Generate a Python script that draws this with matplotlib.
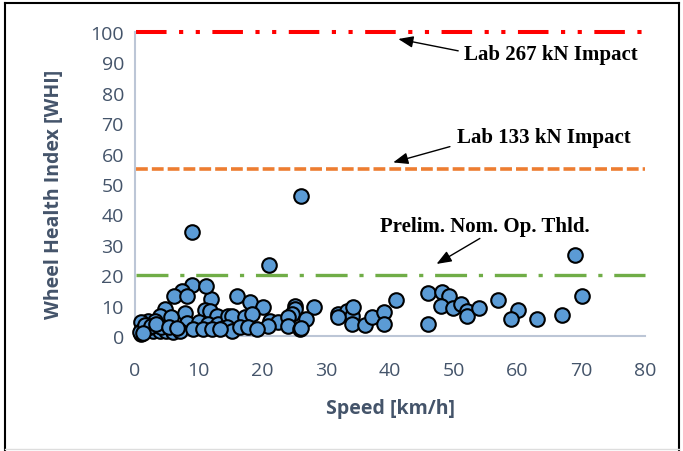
import matplotlib
matplotlib.use("Agg")
import matplotlib.pyplot as plt
from matplotlib.lines import Line2D

# speed [km/h] and wheel health index
SPEED = [
    9.0, 26.0, 21.0, 69.0, 70.1,
    8.9, 7.3, 6.1, 8.2, 11.9, 11.1, 4.7, 11.0, 7.8, 3.9, 5.7, 11.7, 12.8,
    2.0, 3.1, 1.0, 8.1, 10.1, 11.5, 13.0, 1.0, 1.8, 2.8, 3.9, 4.9, 6.0, 7.0,
    1.0, 2.3, 4.1, 9.1, 10.7, 12.0, 14.1, 14.6,
    16.0, 18.0, 20.0, 25.1, 25.1, 28.1, 15.2, 17.3, 18.3, 24.6, 26.9, 21.2,
    22.5, 24.0, 24.0, 20.9, 25.9, 14.4, 15.2, 16.5, 17.8, 19.1, 13.3,
    31.9, 33.2, 34.0, 34.2, 34.0, 31.9, 36.1, 37.1, 39.0, 39.0, 41.0,
    46.0, 48.1, 49.2, 48.0, 49.9, 51.1, 52.0, 52.0, 54.0, 57.0, 60.0, 59.0,
    63.0, 67.0, 45.9,
    0.8, 1.5, 2.5, 3.3, 5.3, 6.6, 1.3, 26.1,
]
WHI = [
    34.3, 46.0, 23.4, 26.6, 13.3,
    16.8, 14.7, 13.3, 13.3, 12.2, 16.3, 8.9, 8.6, 7.5, 6.7, 6.1, 8.3, 6.7,
    5.0, 5.0, 4.5, 4.2, 4.5, 3.9, 3.9, 1.7, 2.3, 1.7, 1.7, 1.5, 1.2, 1.5,
    0.7, 2.9, 2.9, 2.3, 2.3, 2.3, 2.9, 6.7,
    13.3, 11.1, 9.4, 10.0, 8.9, 9.4, 6.7, 6.1, 7.2, 7.2, 5.6, 5.0,
    4.5, 6.1, 3.4, 3.4, 2.3, 2.9, 1.7, 2.9, 2.9, 2.3, 2.3,
    7.2, 8.3, 6.7, 9.4, 3.9, 6.1, 3.7, 6.2, 8.0, 3.9, 11.8,
    14.0, 14.4, 13.3, 10.0, 9.2, 10.5, 8.3, 6.7, 9.2, 11.8, 8.6, 5.6,
    5.6, 6.9, 3.9,
    1.2, 3.6, 3.3, 3.8, 3.0, 2.6, 0.9, 2.6,
]

LIMITS = [100, 55, 20]
LIMIT_NAMES = ["Lab 267 kN Impact", "Lab 133 kN Impact", "Prelim. Nom. Op. Thld."]

TXT = "#44546a"
AXIS = "#bcc6d6"

plt.rcParams["lines.scale_dashes"] = False

fig = plt.figure(figsize=(6.83, 4.52), dpi=100)
ax = fig.add_axes([135 / 683, 1 - 337 / 452, 510 / 683, 304 / 452])

# threshold lines
styles = [
    ("#ff0000", 2.9, (0, (22, 9, 3, 9, 3, 9))),
    ("#ed7d31", 2.6, (0, (8.5, 2.9))),
    ("#70ad47", 2.4, (0, (23, 8.5, 3, 8.5))),
]
for lim, (c, lw, ls) in zip(LIMITS, styles):
    ax.plot([0.2, 80], [lim, lim], color=c, lw=lw, linestyle=ls,
            solid_capstyle="butt", dash_capstyle="butt", clip_on=False, zorder=2)

ax.scatter(SPEED, WHI, s=110, facecolor="#5b9bd5", edgecolor="black",
           linewidth=1.5, clip_on=False, zorder=4)

# annotations
arrows = [((50.7, 93.8), (41.3, 97.7)), ((49.4, 62.3), (40.5, 57.1)),
          ((54.1, 32.1), (47.3, 23.7))]
text_pos = [(65.3, 92.8), (64.2, 65.5), (54.9, 36.2)]
for name, (tail, tip), (tx, ty) in zip(LIMIT_NAMES, arrows, text_pos):
    ax.annotate("", xy=tip, xytext=tail,
                arrowprops=dict(arrowstyle="-|>,head_length=0.9,head_width=0.35",
                                color="black", lw=1.0, shrinkA=0, shrinkB=0),
                zorder=5, annotation_clip=False)
    ax.text(tx, ty, name, ha="center", va="center", fontsize=15,
            fontweight="bold", family="Liberation Serif", color="black", zorder=5)

ax.set_xlim(0, 80)
ax.set_ylim(0, 100)
ax.set_xticks(range(0, 81, 10))
ax.set_yticks(range(0, 101, 10))
ax.tick_params(length=0, labelsize=14, colors=TXT, pad=8)
for lab in ax.get_xticklabels() + ax.get_yticklabels():
    lab.set_family("Open Sans")
ax.tick_params(axis="x", pad=18)

for s in ["top", "right"]:
    ax.spines[s].set_visible(False)
for s in ["left", "bottom"]:
    ax.spines[s].set_color(AXIS)
    ax.spines[s].set_linewidth(1.5)

ax.set_xlabel("Speed [km/h]", fontsize=14, fontweight="bold", color=TXT, family="Open Sans")
ax.set_ylabel("Wheel Health Index [WHI]", fontsize=14, fontweight="bold", color=TXT, family="Open Sans")
ax.xaxis.set_label_coords(0.5, -0.205)
ax.yaxis.set_label_coords(-0.14, 0.47)

# outer frame
fig.add_artist(Line2D([5 / 683, 5 / 683], [0, 1 - 4 / 452], color="black", lw=1.5))
fig.add_artist(Line2D([5 / 683, 679 / 683], [1 - 4 / 452, 1 - 4 / 452], color="black", lw=1.5))
fig.add_artist(Line2D([679 / 683, 679 / 683], [0, 1 - 4 / 452], color="black", lw=1.5))
fig.add_artist(Line2D([5 / 683, 679 / 683], [2 / 452, 2 / 452], color="#dddddd", lw=1.0))

fig.savefig("out.png", dpi=100, facecolor="white")
